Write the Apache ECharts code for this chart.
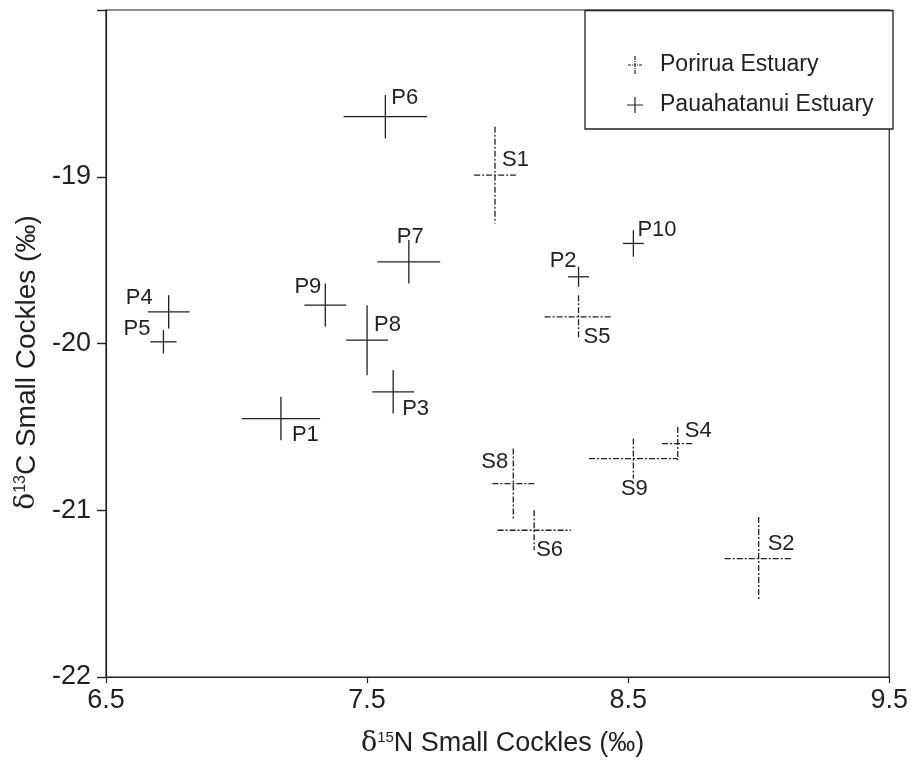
<!DOCTYPE html>
<html>
<head>
<meta charset="utf-8">
<script src="https://cdn.jsdelivr.net/npm/echarts@6/dist/echarts.min.js"></script>
<style>html,body{margin:0;padding:0;background:#fff}#c{width:911px;height:762px}</style>
</head>
<body>
<div id="c"></div>
<script>
// ---- data ----
const pauaNames = ['P1','P2','P3','P4','P5','P6','P7','P8','P9','P10'];
const pauaN15   = [7.17, 8.31, 7.60, 6.74, 6.72, 7.57, 7.66, 7.50, 7.34, 8.52];
const pauaC13   = [-20.45, -19.60, -20.29, -19.81, -19.99, -18.64, -19.51, -19.98, -19.77, -19.40];
const pauaN15Err = [0.15, 0.04, 0.08, 0.08, 0.05, 0.16, 0.12, 0.08, 0.08, 0.04];
const pauaC13Err = [0.13, 0.06, 0.13, 0.10, 0.07, 0.13, 0.13, 0.21, 0.13, 0.08];

const poriNames = ['S1','S2','S4','S5','S6','S8','S9'];
const poriN15   = [7.99, 9.00, 8.69, 8.31, 8.14, 8.06, 8.52];
const poriC13   = [-18.99, -21.29, -20.60, -19.84, -21.12, -20.84, -20.69];
const poriN15Err = [0.08, 0.13, 0.06, 0.13, 0.14, 0.08, 0.17];
const poriC13Err = [0.29, 0.25, 0.10, 0.13, 0.12, 0.21, 0.12];

const xTicks = [6.5, 7.5, 8.5, 9.5];
const yTicks = [-22, -21, -20, -19];

// ---- label placement (layout only) ----
const labelPlace = {
  P1:[11,16,'left'], P2:[-2,-16,'right'], P3:[9,17,'left'], P4:[-16,-14,'right'],
  P5:[-13,-13,'right'], P6:[6,-19,'left'], P7:[-12,-25,'left'], P8:[7,-15,'left'],
  P9:[-4,-18,'right'], P10:[4,-14,'left'],
  S1:[7,-15,'left'], S2:[9,-15,'left'], S4:[7,-13,'left'], S5:[5,20,'left'],
  S6:[2,20,'left'], S8:[-5,-22,'right'], S9:[1,30,'center']
};

const INK = '#231f20';
const FONT = '"Liberation Sans", Arial, sans-serif';

function makeRender(names, dash) {
  return function (params, api) {
    const x = api.value(0), y = api.value(1), ex = api.value(2), ey = api.value(3);
    const c = api.coord([x, y]);
    const l = api.coord([x - ex, y]);
    const r = api.coord([x + ex, y]);
    const t = api.coord([x, y + ey]);
    const b = api.coord([x, y - ey]);
    const name = names[params.dataIndex];
    const pl = labelPlace[name] || [5, -15, 'left'];
    const ls = {stroke: INK, lineWidth: 1.3, lineDash: dash, fill: null};
    return {
      type: 'group',
      children: [
        {type: 'line', shape: {x1: l[0], y1: c[1], x2: r[0], y2: c[1]}, style: ls},
        {type: 'line', shape: {x1: c[0], y1: t[1], x2: c[0], y2: b[1]}, style: ls},
        {type: 'text', style: {text: name, x: c[0] + pl[0], y: c[1] + pl[1],
          align: pl[2], verticalAlign: 'middle', fill: INK,
          font: '22px ' + FONT}}
      ]
    };
  };
}

const pauaData = pauaNames.map((n, i) => [pauaN15[i], pauaC13[i], pauaN15Err[i], pauaC13Err[i]]);
const poriData = poriNames.map((n, i) => [poriN15[i], poriC13[i], poriN15Err[i], poriC13Err[i]]);

const solidCross = 'path://M0,7.4L16,7.4L16,8.6L0,8.6Z M7.4,0L8.6,0L8.6,16L7.4,16Z';
const dashCross = 'path://M0,8.4L3,8.4L3,9.6L0,9.6Z M4,8.4L5,8.4L5,9.6L4,9.6Z M6,8.4L8,8.4L8,9.6L6,9.6Z M9,8.4L10,8.4L10,9.6L9,9.6Z M11,8.4L14,8.4L14,9.6L11,9.6Z ' +
  'M6.4,0L7.6,0L7.6,4L6.4,4Z M6.4,5L7.6,5L7.6,6L6.4,6Z M6.4,7L7.6,7L7.6,11L6.4,11Z M6.4,12L7.6,12L7.6,13L6.4,13Z M6.4,14L7.6,14L7.6,18L6.4,18Z';

const chart = echarts.init(document.getElementById('c'), null, {renderer: 'canvas'});
chart.setOption({
  animation: false,
  backgroundColor: '#fff',
  grid: {left: 106, right: 18, top: 10, bottom: 83, show: true, borderColor: INK, borderWidth: 1.2, backgroundColor: 'transparent'},
  xAxis: {
    type: 'value', min: xTicks[0], max: xTicks[xTicks.length - 1], interval: 1,
    axisLine: {show: true, onZero: false, lineStyle: {color: INK, width: 1.2}},
    axisTick: {show: true, length: 6, lineStyle: {color: INK, width: 1.2}},
    splitLine: {show: false},
    axisLabel: {color: INK, fontSize: 27, fontFamily: FONT, margin: 10},
    name: '{d|δ}{sup|15}N Small Cockles (‰)',
    nameLocation: 'middle', nameGap: 53,
    nameTextStyle: {color: INK, fontSize: 27, fontFamily: FONT, padding: [0, 0, 0, 10],
      rich: {d: {fontSize: 27, fontFamily: '"DejaVu Serif", serif', color: INK},
             sup: {fontSize: 15, fontFamily: FONT, color: INK, padding: [0, 0, 12, 0]}}}
  },
  yAxis: {
    type: 'value', min: -22, max: -18, interval: 1,
    axisLine: {show: true, onZero: false, lineStyle: {color: INK, width: 1.2}},
    axisTick: {show: true, length: 9, lineStyle: {color: INK, width: 1.4}},
    splitLine: {show: false},
    axisLabel: {color: INK, fontSize: 27, fontFamily: FONT, margin: 15,
      formatter: v => (yTicks.indexOf(v) >= 0 ? String(v) : '')},
    name: '{d|δ}{sup|13}C Small Cockles (‰)',
    nameLocation: 'middle', nameGap: 61, nameRotate: 90,
    nameTextStyle: {color: INK, fontSize: 28, fontFamily: FONT, padding: [0, 38, 0, 0],
      rich: {d: {fontSize: 28, fontFamily: '"DejaVu Serif", serif', color: INK},
             sup: {fontSize: 16, fontFamily: FONT, color: INK, padding: [0, 0, 13, 0]}}}
  },
  legend: {
    orient: 'vertical', left: 622, top: 48, itemWidth: 16, itemHeight: 18, itemGap: 16,
    selectedMode: false,
    textStyle: {color: INK, fontSize: 23, fontFamily: FONT, lineHeight: 24, padding: [0, 0, 0, 12]},
    data: [
      {name: 'Porirua Estuary', icon: dashCross},
      {name: 'Pauahatanui Estuary', icon: solidCross}
    ]
  },
  graphic: [{
    type: 'rect', z: 3, silent: true,
    shape: {x: 585, y: 10.5, width: 308, height: 118.5},
    style: {fill: '#fff', stroke: INK, lineWidth: 1.3}
  }],
  series: [
    {name: 'Porirua Estuary', type: 'custom', renderItem: makeRender(poriNames, [6, 2, 2, 2]),
     encode: {x: 0, y: 1}, itemStyle: {color: INK}, data: poriData, z: 5},
    {name: 'Pauahatanui Estuary', type: 'custom', renderItem: makeRender(pauaNames, null),
     encode: {x: 0, y: 1}, itemStyle: {color: INK}, data: pauaData, z: 5}
  ]
});
</script>
</body>
</html>
